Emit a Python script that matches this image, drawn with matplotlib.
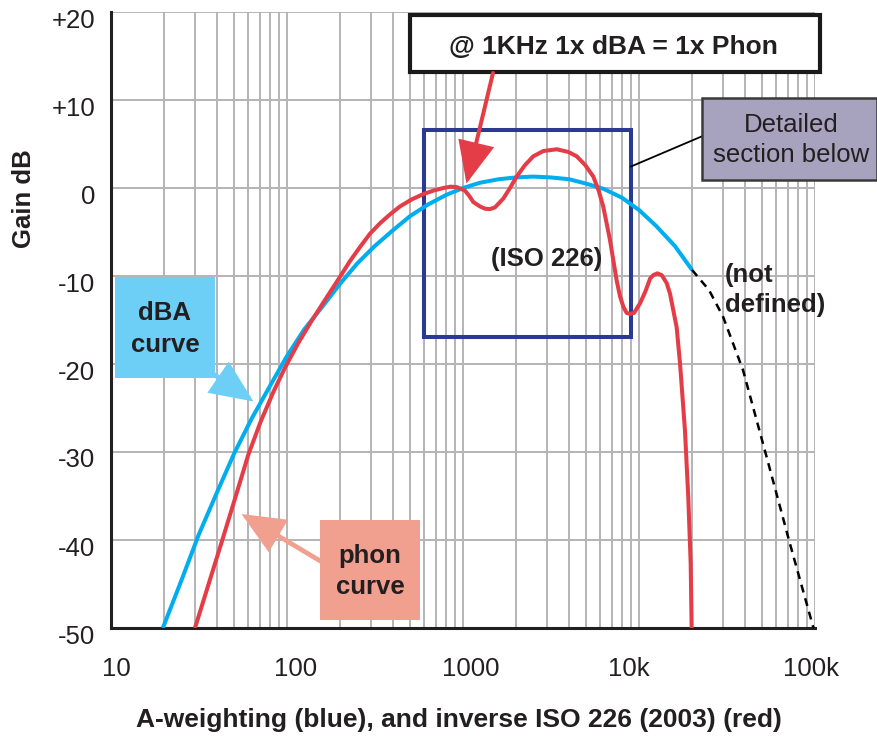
import matplotlib
matplotlib.use("Agg")
import matplotlib.pyplot as plt
from matplotlib.patches import Rectangle, FancyArrowPatch, ArrowStyle
from matplotlib.transforms import ScaledTranslation
from matplotlib.ticker import FixedLocator, FixedFormatter, LogLocator, NullFormatter

# ---------------- data ----------------
# A-weighting curve (blue)
a_freq = [19.7, 25, 31.5, 40, 50, 63, 80, 100, 125, 160, 200, 250, 315, 400, 500,
          630, 800, 1000, 1250, 1600, 2000, 2500, 3150, 4000, 5000, 6300, 8000,
          10000, 12500, 16000, 20000]
a_gain = [-50.0, -44.7, -39.4, -34.6, -30.2, -26.2, -22.5, -19.1, -16.1, -13.4, -10.9,
          -8.6, -6.6, -4.8, -3.2, -1.9, -0.8, 0.0, 0.6, 1.0, 1.2, 1.3, 1.2, 1.0, 0.5,
          -0.1, -1.1, -2.5, -4.3, -6.6, -9.3]

# A-weighting continuation, not defined (black dashed)
nd_freq = [20000, 25000, 30000, 39000, 53000, 72000, 98000]
nd_gain = [-9.3, -11.6, -14.6, -20.7, -30.5, -40.4, -50.0]

# inverse ISO 226 (2003) curve (red)
iso_freq = [30.0, 36, 42.6, 51, 60.3, 71, 84, 97.5, 116, 138, 161, 180, 200, 228, 260,
            296, 338, 385, 438, 511, 594, 678, 773, 850, 921, 1026, 1085, 1145, 1250,
            1334, 1422, 1520, 1694, 1850, 2018, 2250, 2507, 2858, 3407, 3963, 4427,
            4950, 5500, 5900, 6264, 6840, 7465, 7800, 8150, 8510, 8890, 9370, 10140,
            10850, 11560, 12050, 12710, 13460, 14360, 15000, 16360, 17100, 18240,
            19050, 19660, 19910]
iso_gain = [-50.0, -44.9, -40.2, -35.1, -30.3, -26.5, -23.1, -20.4, -17.6, -15.1, -13.0,
            -11.5, -10.1, -8.3, -6.7, -5.2, -4.0, -3.0, -2.1, -1.3, -0.7, -0.3, 0.0,
            0.15, 0.1, -0.3, -0.9, -1.6, -2.1, -2.35, -2.4, -2.2, -1.2, 0.0, 1.3, 2.6,
            3.6, 4.2, 4.4, 4.1, 3.6, 2.6, 1.3, -0.3, -2.1, -5.9, -10.5, -12.3, -13.5,
            -14.2, -14.3, -14.2, -13.1, -11.8, -10.3, -9.9, -9.7, -9.9, -10.8, -12.0,
            -15.8, -19.9, -27.5, -35.1, -42.6, -50.0]

x_ticks = [10, 100, 1000, 10000, 100000]
x_tick_labels = ["10", "100", "1000", "10k", "100k"]
y_ticks = [20, 10, 0, -10, -20, -30, -40, -50]
y_tick_labels = ["+20", "+10", "0", "-10", "-20", "-30", "-40", "-50"]

# ---------------- style ----------------
plt.rcParams["font.family"] = ["Liberation Sans", "DejaVu Sans"]
TXT = "#231F20"
RED = "#E43D47"
BLUE = "#00AEEF"
NAVY = "#2B3990"
LBLUE = "#6DCFF6"
SALMON = "#F1A08F"
LAV = "#A7A2BE"
GRID = "#B4B4B8"

W, H = 878, 737
fig = plt.figure(figsize=(W / 100, H / 100), dpi=100)
fig.patch.set_facecolor("white")
ax = fig.add_axes([111 / W, 1 - 628 / H, (815 - 111) / W, (628 - 12) / H])


def P(x, y):
    return (x / W, 1 - y / H)


def box(x0, y0, x1, y1, **kw):
    ax.add_patch(Rectangle(P(x0, y1), (x1 - x0) / W, (y1 - y0) / H,
                           transform=fig.transFigure, clip_on=False, **kw))


def label(x, y, s, **kw):
    ax.text(*P(x, y), s, transform=fig.transFigure, color=TXT, zorder=8, **kw)


def arrow(x0, y0, x1, y1, color, lw, hl, hw):
    ax.add_patch(FancyArrowPatch(P(x0, y0), P(x1, y1), transform=fig.transFigure,
                                 arrowstyle=ArrowStyle("-|>", head_length=hl, head_width=hw),
                                 mutation_scale=1, lw=lw, color=color, shrinkA=0, shrinkB=0,
                                 clip_on=False, zorder=7, joinstyle="miter"))


# ---------------- curves ----------------
ax.plot(a_freq, a_gain, color=BLUE, lw=2.9, zorder=3, solid_capstyle="butt",
        solid_joinstyle="round")
ax.plot(nd_freq, nd_gain, color="black", lw=1.8, dashes=(3.2, 2.4), zorder=3)
ax.plot(iso_freq, iso_gain, color=RED, lw=2.9, zorder=3.1, solid_capstyle="butt",
        solid_joinstyle="round")

# ---------------- axes ----------------
ax.set_xscale("log")
ax.set_xlim(10, 100000)
ax.set_ylim(-50, 20)
ax.xaxis.set_major_locator(FixedLocator(x_ticks))
ax.xaxis.set_major_formatter(FixedFormatter(x_tick_labels))
ax.xaxis.set_minor_locator(LogLocator(base=10, subs=range(2, 10), numticks=20))
ax.xaxis.set_minor_formatter(NullFormatter())
ax.yaxis.set_major_locator(FixedLocator(y_ticks))
ax.yaxis.set_major_formatter(FixedFormatter(y_tick_labels))
ax.set_axisbelow(True)
ax.grid(True, which="both", axis="x", color=GRID, lw=1.4)
ax.grid(True, which="major", axis="y", color=GRID, lw=1.4)
for s in ["top", "right"]:
    ax.spines[s].set_visible(False)
for s in ["left", "bottom"]:
    ax.spines[s].set_color(TXT)
    ax.spines[s].set_linewidth(2.2)
ax.tick_params(axis="both", which="both", length=0, colors=TXT, labelsize=18.5)
ax.tick_params(axis="x", which="major", pad=21)
ax.tick_params(axis="y", which="major", pad=11.5)
for t in ax.yaxis.get_major_ticks():
    t.label1.set_transform(t.label1.get_transform() +
                           ScaledTranslation(0, -6 / 100, fig.dpi_scale_trans))
x_label_shift = [5, 9, 8, -10, -4]
for t, dx in zip(ax.xaxis.get_major_ticks(), x_label_shift):
    t.label1.set_transform(t.label1.get_transform() +
                           ScaledTranslation(dx / 100, 0, fig.dpi_scale_trans))

label(459, 727, "A-weighting (blue), and inverse ISO 226 (2003) (red)",
      fontsize=19, fontweight="bold", ha="center", va="baseline")
label(31.5, 199, "Gain dB", fontsize=18.5, fontweight="bold", ha="center",
      va="baseline", rotation=90, rotation_mode="anchor")

# ---------------- annotations ----------------
# detailed-section rectangle
box(424.5, 130, 631, 337, fill=False, edgecolor=NAVY, lw=2.9, zorder=2.5)
ax.plot([P(631, 166.5)[0], P(701.5, 136.5)[0]], [P(631, 166.5)[1], P(701.5, 136.5)[1]],
        transform=fig.transFigure, color="black", lw=1.3, zorder=4, clip_on=False)
box(702, 97.5, 877, 180, facecolor=LAV, edgecolor="#3A3A3A", lw=1.8, zorder=5)
label(791.5, 131.5, "Detailed", fontsize=18.5, ha="center", va="baseline")
label(791.5, 162.5, "section below", fontsize=18.5, ha="center", va="baseline")

# 1 kHz box
box(410, 14.5, 820, 71.5, facecolor="white", edgecolor="#1A1A1A", lw=3.0, zorder=6)
label(613, 54.5, "@ 1KHz 1x dBA = 1x Phon", fontsize=19, fontweight="bold",
      ha="center", va="baseline")
arrow(493, 73, 466.5, 183.5, RED, 2.9, 25, 11)

label(546.5, 266, "(ISO 226)", fontsize=18.5, fontweight="bold", ha="center", va="baseline")
label(725, 282, "(not", fontsize=18.5, fontweight="bold", ha="left", va="baseline")
label(725, 312, "defined)", fontsize=18.5, fontweight="bold", ha="left", va="baseline")

# dBA curve box
box(115, 277, 215, 378, facecolor=LBLUE, edgecolor="none", zorder=5)
label(165, 320, "dBA", fontsize=18.5, fontweight="bold", ha="center", va="baseline")
label(165, 352, "curve", fontsize=18.5, fontweight="bold", ha="center", va="baseline")
arrow(212, 373, 253.5, 401.5, LBLUE, 3.4, 25, 11)

# phon curve box
box(320, 520, 420, 620, facecolor=SALMON, edgecolor="none", zorder=5)
label(370, 563, "phon", fontsize=18.5, fontweight="bold", ha="center", va="baseline")
label(370, 594, "curve", fontsize=18.5, fontweight="bold", ha="center", va="baseline")
arrow(322, 562, 241.5, 514, SALMON, 3.4, 25, 11)

fig.savefig("out.png", dpi=100, facecolor="white")
